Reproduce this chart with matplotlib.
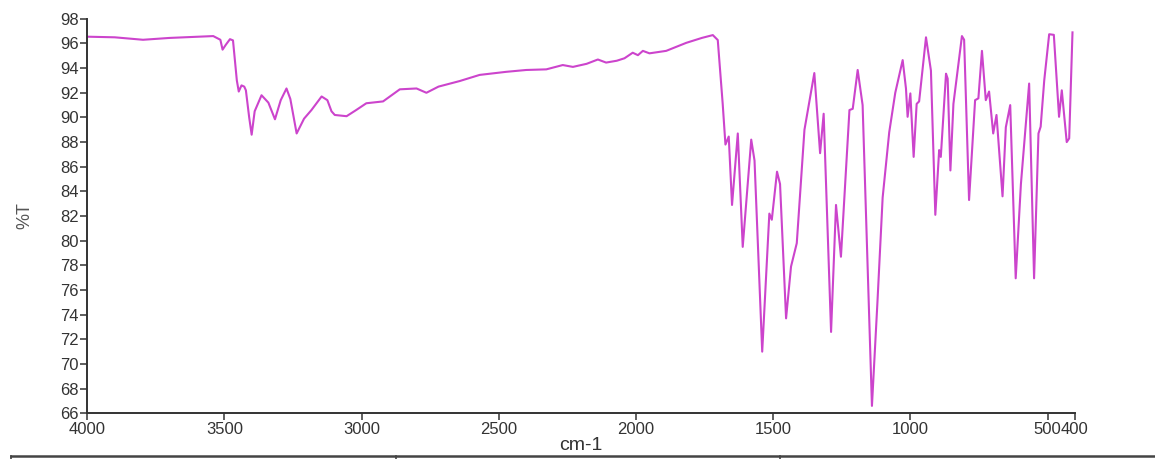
import matplotlib
matplotlib.use("Agg")
import matplotlib.pyplot as plt
from matplotlib.lines import Line2D

plt.rcParams['font.family'] = ['Liberation Sans', 'DejaVu Sans']

# wavenumber (cm-1) and transmittance (%T)
wavenumber = [4000, 3900, 3797, 3700, 3600, 3541, 3515, 3507, 3495, 3480,
              3469, 3455, 3448, 3438, 3428, 3422, 3410, 3401, 3390, 3365,
              3340, 3316, 3295, 3274, 3260, 3237, 3210, 3183, 3146, 3125,
              3110, 3098, 3055, 3020, 2983, 2922, 2861, 2800, 2764, 2720,
              2643, 2570, 2473, 2400, 2327, 2267, 2230, 2180, 2139, 2109,
              2070, 2042, 2012, 1993, 1975, 1951, 1890, 1817, 1760, 1720,
              1702, 1684, 1674, 1662, 1650, 1629, 1611, 1580, 1568, 1540,
              1514, 1505, 1486, 1475, 1453, 1435, 1414, 1386, 1350, 1329,
              1316, 1289, 1271, 1253, 1222, 1210, 1192, 1174, 1140, 1120,
              1101, 1077, 1055, 1028, 1016, 1010, 1000, 988, 977, 968,
              943, 925, 909, 895, 889, 870, 864, 854, 843, 812,
              804, 786, 764, 752, 739, 725, 713, 698, 686, 664,
              652, 636, 616, 597, 567, 549, 533, 525, 512, 494,
              477, 458, 448, 430, 421, 409]
transmittance = [96.55, 96.5, 96.3, 96.45, 96.55, 96.6, 96.3, 95.5, 95.9, 96.35,
                 96.25, 93.0, 92.1, 92.6, 92.5, 92.2, 90.0, 88.6, 90.5, 91.8,
                 91.2, 89.85, 91.4, 92.35, 91.5, 88.7, 89.9, 90.6, 91.7, 91.4,
                 90.5, 90.2, 90.1, 90.6, 91.15, 91.3, 92.28, 92.35, 92.0, 92.5,
                 92.95, 93.45, 93.7, 93.85, 93.9, 94.25, 94.1, 94.35, 94.7, 94.45,
                 94.6, 94.8, 95.25, 95.05, 95.4, 95.2, 95.4, 96.05, 96.45, 96.68,
                 96.28, 91.1, 87.8, 88.45, 82.9, 88.7, 79.5, 88.2, 86.5, 71.0,
                 82.2, 81.7, 85.6, 84.6, 73.7, 77.9, 79.8, 89.0, 93.6, 87.1,
                 90.3, 72.6, 82.9, 78.7, 90.6, 90.7, 93.85, 91.0, 66.6, 75.0,
                 83.5, 88.8, 92.0, 94.65, 92.35, 90.05, 91.95, 86.8, 91.1, 91.3,
                 96.5, 93.8, 82.1, 87.35, 86.8, 93.55, 93.15, 85.7, 91.1, 96.6,
                 96.3, 83.3, 91.4, 91.55, 95.4, 91.4, 92.1, 88.7, 90.2, 83.6,
                 89.2, 91.0, 76.95, 84.6, 92.75, 76.95, 88.7, 89.25, 93.0, 96.75,
                 96.7, 90.05, 92.2, 88.0, 88.3, 96.9]

x_ticks = [4000, 3500, 3000, 2500, 2000, 1500, 1000, 500, 400]
y_ticks = list(range(66, 99, 2))

fig = plt.figure(figsize=(11.55, 4.59), dpi=100)
ax = fig.add_axes([0.0756, 0.0996, 0.8551, 0.8594])

ax.plot(wavenumber, transmittance, color='#cc44cc', linewidth=1.5)

ax.set_xlim(4000, 400)
ax.set_ylim(66, 98)
ax.set_xticks(x_ticks)
ax.set_yticks(y_ticks)

for side in ['top', 'right']:
    ax.spines[side].set_visible(False)
for side in ['left', 'bottom']:
    ax.spines[side].set_color('#333333')
    ax.spines[side].set_linewidth(1.4)

ax.tick_params(axis='both', direction='out', length=5, width=1.1,
               color='#333333', labelsize=12, labelcolor='#333333', pad=1)

ax.set_xlabel('cm-1', fontsize=14, color='#333333', labelpad=0)
ax.set_ylabel('%T', fontsize=13, color='#555555', labelpad=19)

# the table strip cut off at the bottom of the screenshot
strip_y = 1 - 456 / 459
fig.add_artist(Line2D([11 / 1155, 1.0], [strip_y, strip_y], color='#444444', linewidth=1.8))
for xpos in [11 / 1155, 396 / 1155, 780 / 1155]:
    fig.add_artist(Line2D([xpos, xpos], [0, strip_y], color='#444444', linewidth=1.2))

fig.savefig('out.png', dpi=100)
